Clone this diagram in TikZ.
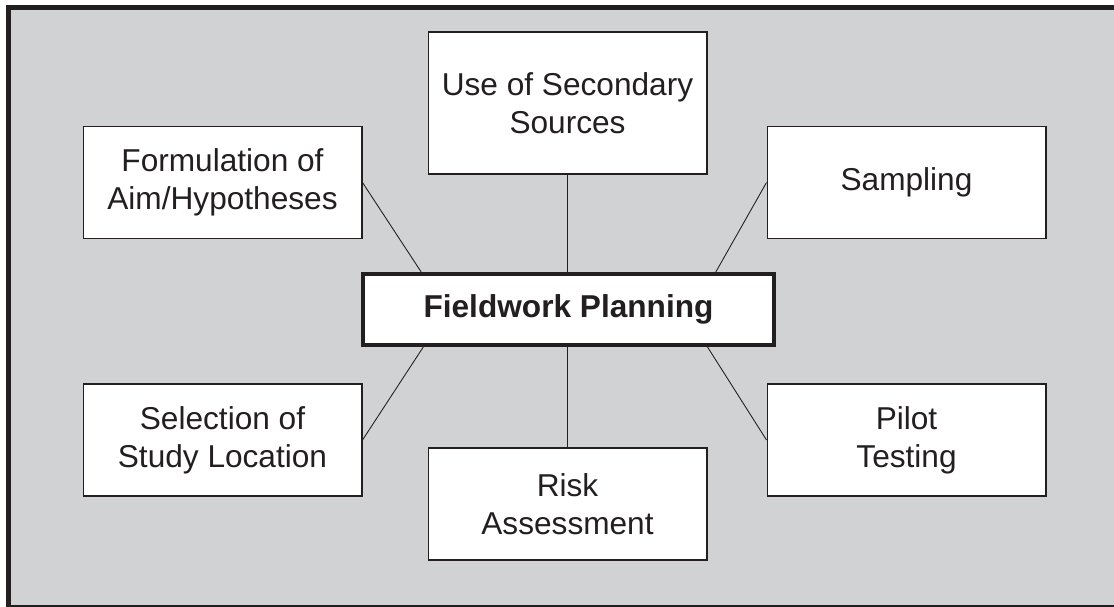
\documentclass[tikz,border=0pt]{standalone}
\usepackage{fontspec}
\setmainfont{Liberation Sans}
\usepackage{tikz}
\usetikzlibrary{positioning}
\usetikzlibrary{calc}
\definecolor{panel}{HTML}{D1D2D4}
\definecolor{ink}{HTML}{231F20}
\tikzstyle{topic}=[rectangle,draw=ink,fill=white,line width=0.6pt,minimum width=5.58cm,minimum height=2.24cm,inner sep=0pt,align=center,text=ink,font=\fontsize{18}{21.6}\selectfont]
\tikzstyle{hub}=[rectangle,draw=ink,fill=white,line width=0.08cm,minimum width=8.22cm,minimum height=1.42cm,inner sep=0pt,text=ink,font=\fontsize{18}{21.6}\selectfont\bfseries]
\tikzstyle{link} = [draw,ink,line width=0.5pt]
\begin{document}
\begin{tikzpicture}[x=0.02cm,y=-0.02cm]

 \useasboundingbox (0,0) rectangle (1114,606);
 \clip (0,0) rectangle (1114,606);

 % frame
 \draw[ink, line width=0.1cm, fill=panel] (8.5,7) rectangle (1130,607);

 % centre
 \node[hub] (fp) at (568.5,309.5) {Fieldwork Planning};

 % topics
 \node[topic, minimum height=2.84cm] (sec) at (567.5,103) {Use of Secondary\\Sources};

  \foreach \x/\y/\name/\label in {222.5/182.5/form/{Formulation of\\Aim/Hypotheses}, 906.5/182.5/samp/Sampling,
        222.5/440/sel/{Selection of\\Study Location}, 567.5/504/risk/{Risk\\Assessment}, 906.5/440/pilot/{Pilot\\Testing}}
          \node[topic] (\name) at (\x, \y) {\label};

 % links
  \path[link] (sec.south) -- (sec.south |- fp.north);
  \path[link] (risk.north) -- (risk.north |- fp.south);

  \foreach \dest/\anchor/\side/\frac in {form/east/north/0.145, samp/west/north/0.855, sel/east/south/0.15, pilot/west/south/0.835}
         \path[link] ($(fp.\side\space west)!\frac!(fp.\side\space east)$) -- (\dest.\anchor);

\end{tikzpicture}
\end{document}
